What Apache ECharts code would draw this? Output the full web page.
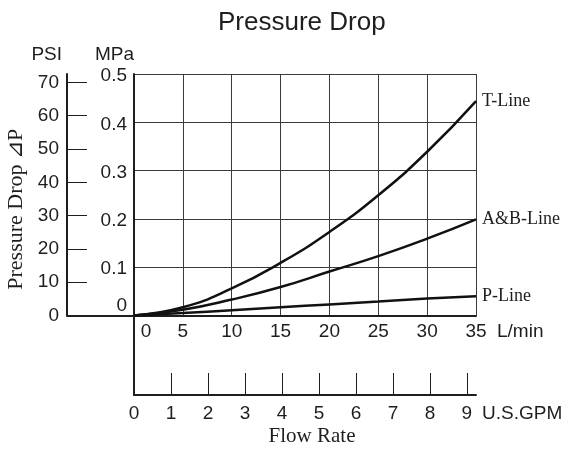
<!DOCTYPE html>
<html>
<head>
<meta charset="utf-8">
<script src="https://cdn.jsdelivr.net/npm/echarts@6/dist/echarts.min.js"></script>
<style>html,body{margin:0;padding:0;background:#fff}#c{width:573px;height:449px}</style>
</head>
<body>
<div id="c"></div>
<script>
// ---- data ----
const flowLmin = [0, 5, 10, 15, 20, 25, 30, 35];
const tLine  = [0, 0.017, 0.056, 0.109, 0.173, 0.249, 0.339, 0.444];
const abLine = [0, 0.012, 0.033, 0.059, 0.091, 0.123, 0.159, 0.199];
const pLine  = [0, 0.005, 0.011, 0.017, 0.023, 0.029, 0.035, 0.040];
const seriesNames = ['T-Line', 'A&B-Line', 'P-Line'];
const psiTicks = [0, 10, 20, 30, 40, 50, 60, 70];
const gpmTicks = [0, 1, 2, 3, 4, 5, 6, 7, 8, 9];

// unit conversions
const PSI_PER_MPA = 145.0377;
const LMIN_PER_GPM = 3.785411784;
const MPA_MAX = 0.5, LMIN_MAX = 35;

const SANS = 'Liberation Sans, Arial, sans-serif';
const SERIF = 'Liberation Serif, Times New Roman, serif';
const INK = '#1e1e1e';
const tick = { fontFamily: SANS, fontSize: 19, color: INK };
const axisLine2 = { show: true, lineStyle: { color: INK, width: 2 } };

const pairs = (ys) => flowLmin.map((x, i) => [x, ys[i]]);

const chart = echarts.init(document.getElementById('c'), null, { renderer: 'canvas' });
const G = { left: 134, width: 342, top: 74, height: 241.5 };

chart.setOption({
  animation: false,
  backgroundColor: '#fff',
  title: {
    text: 'Pressure Drop', left: 213, top: 5,
    textStyle: { fontFamily: SANS, fontSize: 26, fontWeight: 'normal', color: INK }
  },
  grid: [
    { left: G.left, width: G.width, top: G.top, height: G.height, outerBoundsMode: 'none' },        // main
    { left: 67, width: 67, top: G.top, height: G.height, outerBoundsMode: 'none' },                 // PSI strip
    { left: G.left, width: G.width, top: G.top + G.height, height: 79.5, outerBoundsMode: 'none' } // GPM
  ],
  xAxis: [
    { // L/min
      gridIndex: 0, type: 'value', position: 'bottom', min: 0, max: LMIN_MAX, interval: 5,
      axisLine: axisLine2, axisTick: { show: false },
      splitLine: { show: true, lineStyle: { color: '#3a3a3a', width: 1 } },
      axisLabel: Object.assign({}, tick, {
        margin: 7,
        formatter: v => v === 0 ? '{z|0}' : String(v),
        rich: { z: { fontFamily: SANS, fontSize: 19, color: INK, padding: [0, 0, 0, 24] } }
      }),
      name: 'L/min', nameLocation: 'end', nameGap: 21, nameMoveOverlap: false,
      nameTextStyle: Object.assign({}, tick, { verticalAlign: 'top', padding: [7, 0, 0, 0] })
    },
    { // PSI strip bottom line
      gridIndex: 1, type: 'value', position: 'bottom', min: 0, max: 1,
      axisLine: axisLine2, axisTick: { show: false }, axisLabel: { show: false }, splitLine: { show: false }
    },
    { // U.S.GPM
      gridIndex: 2, type: 'value', position: 'bottom', min: 0, max: LMIN_MAX / LMIN_PER_GPM,
      axisLine: axisLine2,
      axisTick: { show: true, inside: true, length: 22, customValues: gpmTicks, lineStyle: { color: INK, width: 1 } },
      axisLabel: Object.assign({}, tick, { margin: 9, customValues: gpmTicks }),
      splitLine: { show: false },
      name: 'U.S.GPM', nameLocation: 'end', nameGap: 6, nameMoveOverlap: false,
      nameTextStyle: Object.assign({}, tick, { verticalAlign: 'top', padding: [9, 0, 0, 0] })
    },
    { // Flow Rate caption
      gridIndex: 2, type: 'value', position: 'bottom', offset: 0, min: 0, max: 1,
      axisLine: { show: false }, axisTick: { show: false }, axisLabel: { show: false }, splitLine: { show: false },
      name: 'Flow Rate', nameLocation: 'middle', nameGap: 31, nameMoveOverlap: false,
      nameTextStyle: { fontFamily: SERIF, fontSize: 21, color: INK, padding: [0, 0, 0, 14] }
    }
  ],
  yAxis: [
    { // MPa
      gridIndex: 0, type: 'value', position: 'left', min: 0, max: MPA_MAX, interval: 0.1,
      axisLine: axisLine2, axisTick: { show: false },
      splitLine: { show: true, lineStyle: { color: '#3a3a3a', width: 1 } },
      axisLabel: Object.assign({}, tick, {
        margin: 7,
        formatter: v => v === 0 ? '{z|0}' : '{n|' + (+v.toFixed(1)) + '}',
        rich: {
          z: { fontFamily: SANS, fontSize: 19, color: INK, padding: [0, 0, 20, 0] },
          n: { fontFamily: SANS, fontSize: 19, color: INK, padding: [4, 0, 0, 0] }
        }
      }),
      name: 'MPa', nameLocation: 'end', nameGap: 10, nameMoveOverlap: false,
      nameTextStyle: Object.assign({}, tick, { align: 'right' })
    },
    { // PSI
      gridIndex: 1, type: 'value', position: 'left', min: 0, max: MPA_MAX * PSI_PER_MPA,
      axisLine: axisLine2,
      axisTick: { show: true, inside: true, length: 20, customValues: psiTicks, lineStyle: { color: INK, width: 1 } },
      axisLabel: Object.assign({}, tick, { margin: 8, customValues: psiTicks }),
      splitLine: { show: false },
      name: 'PSI', nameLocation: 'end', nameGap: 10, nameMoveOverlap: false,
      nameTextStyle: Object.assign({}, tick, { align: 'right', padding: [0, 5, 0, 0] })
    },
    { // rotated caption
      gridIndex: 1, type: 'value', position: 'left', offset: 0, min: 0, max: 1,
      axisLine: { show: false }, axisTick: { show: false }, axisLabel: { show: false }, splitLine: { show: false },
      name: 'Pressure Drop ⊿P', nameLocation: 'middle', nameGap: 40, nameMoveOverlap: false,
      nameTextStyle: { fontFamily: SERIF, fontSize: 22, color: INK, padding: [0, 29, 0, 0] }
    },
    { // GPM strip left line
      gridIndex: 2, type: 'value', position: 'left', min: 0, max: 1,
      axisLine: axisLine2, axisTick: { show: false }, axisLabel: { show: false }, splitLine: { show: false }
    }
  ],
  series: [tLine, abLine, pLine].map((ys, i) => ({
    name: seriesNames[i], type: 'line', xAxisIndex: 0, yAxisIndex: 0,
    data: pairs(ys), smooth: true, symbol: 'none',
    lineStyle: { color: '#111', width: 2.5 },
    endLabel: { show: true, formatter: '{a}', distance: 6, fontFamily: SERIF, fontSize: 18, color: INK }
  }))
});
</script>
</body>
</html>
